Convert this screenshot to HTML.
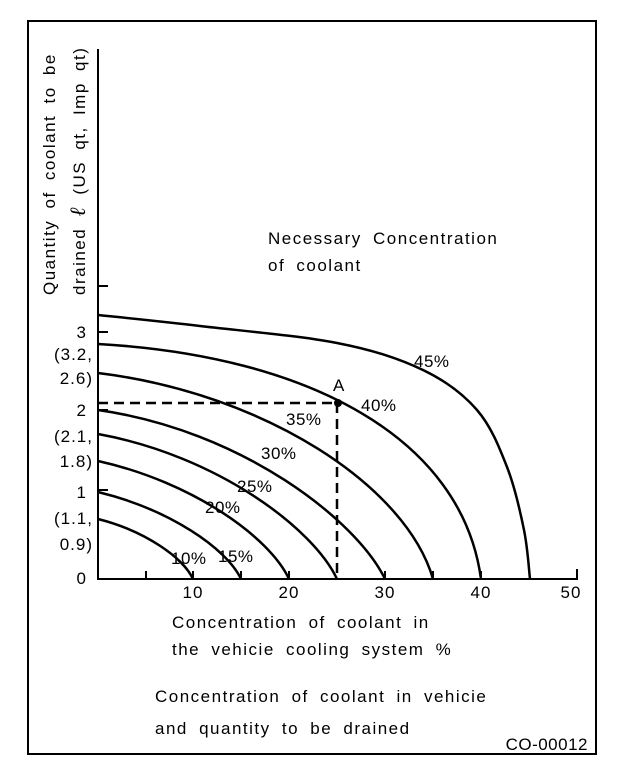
<!DOCTYPE html>
<html><head><meta charset="utf-8"><style>
html,body{margin:0;padding:0;background:#fff;}
svg text{font-family:"Liberation Sans",sans-serif;fill:#000;}
</style></head><body>
<svg width="640" height="770" xmlns="http://www.w3.org/2000/svg">
<rect x="28" y="21" width="568" height="733" fill="none" stroke="#000" stroke-width="2"/>
<g stroke="#000" stroke-width="2" fill="none">
<line x1="98" y1="49" x2="98" y2="580"/>
<line x1="97" y1="579" x2="578" y2="579"/>
<line x1="98" y1="286" x2="108" y2="286"/>
<line x1="98" y1="332" x2="108" y2="332"/>
<line x1="98" y1="410" x2="108" y2="410"/>
<line x1="98" y1="490" x2="108" y2="490"/>
<line x1="146" y1="579" x2="146" y2="571"/>
<line x1="193" y1="579" x2="193" y2="571"/>
<line x1="241" y1="579" x2="241" y2="571"/>
<line x1="289" y1="579" x2="289" y2="571"/>
<line x1="385" y1="579" x2="385" y2="571"/>
<line x1="433" y1="579" x2="433" y2="571"/>
<line x1="481" y1="579" x2="481" y2="571"/>
<line x1="577" y1="579" x2="577" y2="569"/>
<g id="curves" stroke-width="2.5"></g>
<line x1="98" y1="403" x2="337" y2="403" stroke-dasharray="10,6" stroke-width="2.5"/>
<line x1="337" y1="403" x2="337" y2="579" stroke-dasharray="10,6" stroke-width="2.5"/>
</g>
<circle cx="338" cy="403" r="4" fill="#000"/>
<g font-size="17" letter-spacing="1" text-anchor="middle">
<text x="193" y="598">10</text><text x="289" y="598">20</text><text x="385" y="598">30</text><text x="481" y="598">40</text><text x="571" y="598">50</text>
</g>
<g font-size="17" letter-spacing="1" text-anchor="end">
<text x="87" y="338">3</text>
<text x="93" y="360">(3.2,</text>
<text x="93" y="384">2.6)</text>
<text x="87" y="416">2</text>
<text x="93" y="442">(2.1,</text>
<text x="93" y="467">1.8)</text>
<text x="87" y="498">1</text>
<text x="93" y="524">(1.1,</text>
<text x="93" y="550">0.9)</text>
<text x="87" y="584">0</text>
</g>
<g font-size="17" letter-spacing="0.5">
<text x="414" y="367">45%</text>
<text x="361" y="411">40%</text>
<text x="286" y="425">35%</text>
<text x="261" y="459">30%</text>
<text x="237" y="492">25%</text>
<text x="205" y="513">20%</text>
<text x="218" y="562">15%</text>
<text x="171" y="564">10%</text>
<text x="333" y="391">A</text>
</g>
<g font-size="17" letter-spacing="1.5" word-spacing="5">
<text x="268" y="244">Necessary Concentration</text>
<text x="268" y="271">of coolant</text>
<text x="172" y="628">Concentration of coolant in</text>
<text x="172" y="655">the vehicie cooling system %</text>
<text x="155" y="702">Concentration of coolant in vehicie</text>
<text x="155" y="734">and quantity to be drained</text>
<text x="588" y="750" text-anchor="end" letter-spacing="0.5" word-spacing="0">CO-00012</text>
<text transform="translate(55,295) rotate(-90)">Quantity of coolant to be</text>
<text transform="translate(85,295) rotate(-90)">drained <tspan font-family="'Liberation Serif',serif" font-style="italic" font-size="22">ℓ</tspan> (US qt, Imp qt)</text>
</g>
</svg>
<script>
var bz=[
 [519,193,.5,.2,.1,.65],
 [492,241,.5,.2,.1,.65],
 [461,289,.5,.18,.1,.65],
 [434,337,.5,.15,.1,.65],
 [410,385,.5,.12,.1,.65],
 [373,433,.5,.1,.08,.55],
 [344,481,.55,.05,.05,.40]
];
var s='';
bz.forEach(function(b){
 var y0=b[0],X=b[1],W=X-98,H=579-y0;
 var c1x=98+b[2]*W,c1y=y0+b[3]*H,c2x=X-b[4]*W,c2y=y0+b[5]*H;
 s+='<path d="M98,'+y0+' C'+c1x.toFixed(1)+','+c1y.toFixed(1)+' '+c2x.toFixed(1)+','+c2y.toFixed(1)+' '+X+',579"/>';
});
var P=[[98,315],[200,326],[337,343],[423,370],[477,410],[507,467],[524,530],[530,579]];
var d='M'+P[0][0]+','+P[0][1];
for(var i=0;i<P.length-1;i++){
 var p0=P[Math.max(0,i-1)],p1=P[i],p2=P[i+1],p3=P[Math.min(P.length-1,i+2)];
 var a1=p1[0]+(p2[0]-p0[0])/6,a2=p1[1]+(p2[1]-p0[1])/6;
 var b1=p2[0]-(p3[0]-p1[0])/6,b2=p2[1]-(p3[1]-p1[1])/6;
 d+=' C'+a1.toFixed(1)+','+a2.toFixed(1)+' '+b1.toFixed(1)+','+b2.toFixed(1)+' '+p2[0]+','+p2[1];
}
s+='<path d="'+d+'"/>';
document.getElementById('curves').innerHTML=s;
</script>
</body></html>
